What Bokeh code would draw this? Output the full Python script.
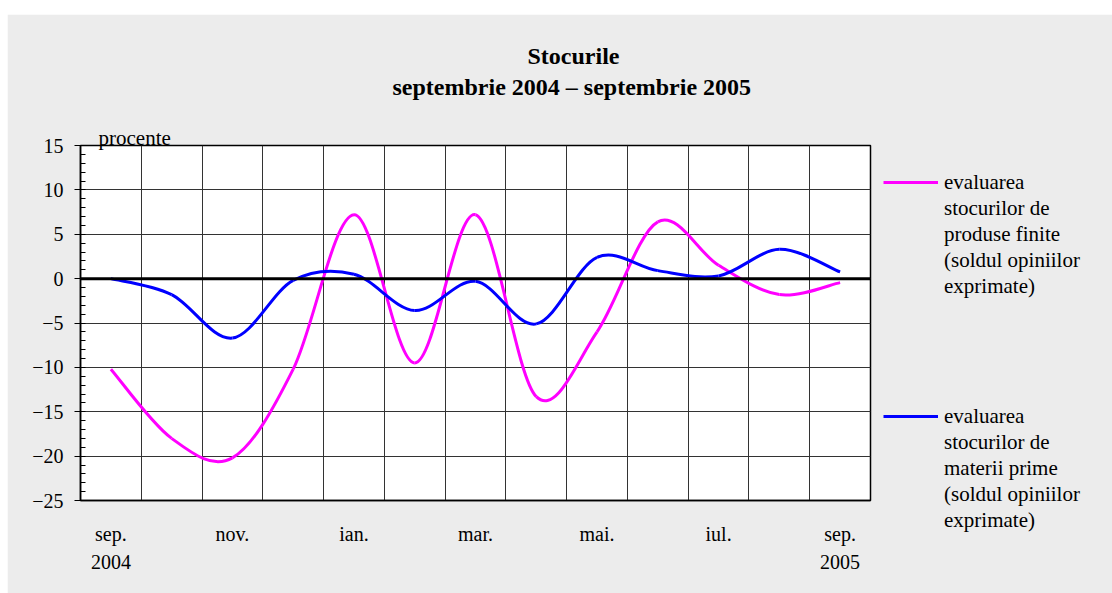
from bokeh.plotting import figure
from bokeh.models import Range1d, FixedTicker, Span, Title, Legend, LegendItem
from bokeh.embed import file_html
from bokeh.resources import INLINE

# ---- data ----
months = ["sep.", "oct.", "nov.", "dec.", "ian.", "feb.", "mar.",
          "apr.", "mai.", "iun.", "iul.", "aug.", "sep."]
x_tick_labels = ["sep.\n2004", "nov.", "ian.", "mar.", "mai.", "iul.", "sep.\n2005"]
produse_finite = [-10.2, -18.0, -20.2, -10.2, 7.2, -9.5, 7.2, -13.3, -6.0, 6.4, 1.5, -1.8, -0.45]
materii_prime = [0.0, -1.8, -6.7, -0.2, 0.5, -3.6, -0.3, -5.1, 2.4, 0.9, 0.3, 3.3, 0.75]
y_ticks = [-25, -20, -15, -10, -5, 0, 5, 10, 15]
legend_pink = ["evaluarea", "stocurilor de", "produse finite", "(soldul opiniilor", "exprimate)"]
legend_blue = ["evaluarea", "stocurilor de", "materii prime", "(soldul opiniilor", "exprimate)"]
title_lines = ["Stocurile", "septembrie 2004 \u2013 septembrie 2005"]
unit_label = "procente"

SERIF = "Liberation Serif"
PINK, BLUE = "#ff00ff", "#0000ff"
BG = "#ececec"
n = len(months)
xs = [i + 0.5 for i in range(n)]

# page geometry
OX, OY = 7, 14                     # canvas offset on the page
FL, FT, FW, FH = 80, 145, 790, 355  # frame on the page
W, H = 1112 - OX, 593 - OY          # canvas size

p = figure(frame_width=FW, frame_height=FH,
           min_border_left=FL - OX, min_border_top=FT - OY,
           min_border_right=W - (FL - OX) - FW, min_border_bottom=H - (FT - OY) - FH,
           x_range=Range1d(0, n), y_range=Range1d(-25, 15),
           output_backend="svg", toolbar_location=None)
p.margin = (OY, 0, 0, OX)

p.border_fill_color = BG
p.background_fill_color = "white"
p.outline_line_color = "black"
p.outline_line_width = 1.5

# grids
p.xgrid.ticker = FixedTicker(ticks=list(range(1, n)))
p.xgrid.grid_line_color = "#333333"
p.ygrid.grid_line_color = "#333333"

# y axis
p.yaxis.ticker = FixedTicker(ticks=y_ticks, minor_ticks=list(range(-25, 16)))
p.yaxis.major_label_overrides = {t: (("\u2212" + str(-t)) if t < 0 else str(t)) for t in y_ticks}
p.yaxis.major_label_text_font = SERIF
p.yaxis.major_label_text_font_size = "20px"
p.yaxis.major_label_text_color = "black"
p.yaxis.major_tick_in = 0
p.yaxis.major_tick_out = 6
p.yaxis.minor_tick_in = 5
p.yaxis.minor_tick_out = 0
p.yaxis.major_label_standoff = 11
p.yaxis.axis_line_color = "black"
p.yaxis.axis_line_width = 1.5

# x axis
label_pos = [xs[i] for i in range(0, n, 2)]
p.xaxis.ticker = FixedTicker(ticks=label_pos)
p.xaxis.major_label_overrides = {pos: lab for pos, lab in zip(label_pos, x_tick_labels)}
p.xaxis.major_label_text_font = SERIF
p.xaxis.major_label_text_font_size = "20px"
p.xaxis.major_label_text_color = "black"
p.xaxis.major_label_text_line_height = 1.28
p.xaxis.major_tick_in = 0
p.xaxis.major_tick_out = 0
p.xaxis.minor_tick_line_color = None
p.xaxis.major_label_standoff = 22
p.xaxis.axis_line_color = "black"
p.xaxis.axis_line_width = 1.5

# zero line
p.add_layout(Span(location=0, dimension="width", line_color="black", line_width=3))


def smooth(ys):
    d = dict(x0=[], y0=[], x1=[], y1=[], cx0=[], cy0=[], cx1=[], cy1=[])
    m = len(ys)
    for i in range(m - 1):
        a = max(i - 1, 0)
        b = min(i + 2, m - 1)
        d["x0"].append(xs[i]); d["y0"].append(ys[i])
        d["x1"].append(xs[i + 1]); d["y1"].append(ys[i + 1])
        d["cx0"].append(xs[i] + (xs[i + 1] - xs[a]) / 6)
        d["cy0"].append(ys[i] + (ys[i + 1] - ys[a]) / 6)
        d["cx1"].append(xs[i + 1] - (xs[b] - xs[i]) / 6)
        d["cy1"].append(ys[i + 1] - (ys[b] - ys[i]) / 6)
    return d


r_pink = p.bezier(line_color=PINK, line_width=3, **smooth(produse_finite))
r_blue = p.bezier(line_color=BLUE, line_width=3, **smooth(materii_prime))
r_none = p.line(x=[], y=[], line_color=None)

# titles (added nearest-first)
p.add_layout(Title(text=unit_label, align="left", offset=18, text_font=SERIF,
                   text_font_size="21px", text_font_style="normal", standoff=-9,
                   text_color="black"), "above")
p.add_layout(Title(text=" ", align="left", offset=0, text_font=SERIF,
                   text_font_size="21px", standoff=3, text_color=BG), "above")
p.add_layout(Title(text=title_lines[1], align="left", offset=312, text_font=SERIF,
                   text_font_size="24px", text_font_style="bold", standoff=0,
                   text_color="black"), "above")
p.add_layout(Title(text=title_lines[0], align="left", offset=447, text_font=SERIF,
                   text_font_size="24px", text_font_style="bold", standoff=6,
                   text_color="black"), "above")

# legend
LINE_H = 26
items = [LegendItem(label=legend_pink[0], renderers=[r_pink])]
items += [LegendItem(label=t, renderers=[r_none]) for t in legend_pink[1:]]
items += [LegendItem(label="\u00a0", renderers=[r_none]) for _ in range(4)]
items += [LegendItem(label=legend_blue[0], renderers=[r_blue])]
items += [LegendItem(label=t, renderers=[r_none]) for t in legend_blue[1:]]
legend_top = 169
legend_bottom = legend_top + LINE_H * len(items)
legend = Legend(items=items, location=(13, (FT + FH) - legend_bottom),
                glyph_width=55, glyph_height=LINE_H,
                label_height=LINE_H, label_standoff=6, spacing=0, padding=0, margin=0,
                border_line_color=None, background_fill_alpha=0,
                label_text_font=SERIF, label_text_font_size="21px",
                label_text_color="black")
p.add_layout(legend, "right")

open("out.html", "w").write(file_html(p, INLINE))
